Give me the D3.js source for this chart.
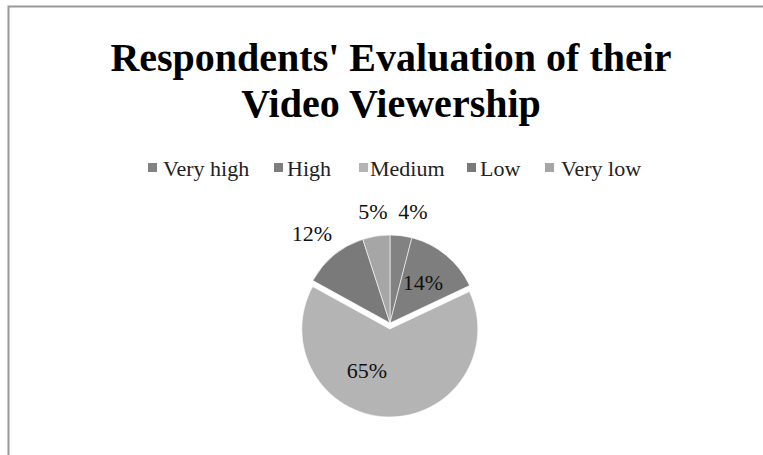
<!DOCTYPE html>
<html><head><meta charset="utf-8">
<script src="https://cdn.jsdelivr.net/npm/d3@7"></script>
<style>html,body{margin:0;padding:0;background:#fff;}svg{display:block;}</style>
</head><body>
<svg id="chart" width="763" height="455"></svg>
<script>
const categories = ["Very high", "High", "Medium", "Low", "Very low"];
const values = [4, 14, 65, 12, 5];
const labels = ["4%", "14%", "65%", "12%", "5%"];
const colors = ["#828282", "#7e7e7e", "#b4b4b4", "#7a7a7a", "#a6a6a6"];
const titleLines = ["Respondents' Evaluation of their", "Video Viewership"];

const svg = d3.select("#chart");
const font = "'Liberation Serif', 'Times New Roman', serif";

svg.append("rect").attr("x", 0).attr("y", 0).attr("width", 763).attr("height", 455).attr("fill", "#fff");
svg.append("rect").attr("x", 8.5).attr("y", 6.5).attr("width", 800).attr("height", 500)
  .attr("fill", "none").attr("stroke", "#9a9a9a").attr("stroke-width", 2);

svg.selectAll("text.title").data(titleLines).enter().append("text")
  .attr("class", "title")
  .attr("x", 391).attr("y", (d, i) => 71 + i * 46)
  .attr("text-anchor", "middle")
  .attr("font-family", font).attr("font-weight", "bold").attr("font-size", 40)
  .attr("fill", "#000").text(d => d);

// legend
const markerX = [148, 274, 359, 467, 545];
const textX = [163, 287, 370, 480, 561];
const lg = svg.append("g");
categories.forEach((c, i) => {
  lg.append("rect").attr("x", markerX[i]).attr("y", 163).attr("width", 9).attr("height", 9).attr("fill", colors[i]);
  lg.append("text").attr("x", textX[i]).attr("y", 176)
    .attr("font-family", font).attr("font-size", 22).attr("fill", "#222").text(c);
});

// pie
const cx = 390, cy = 323, r = 88;
const pie = d3.pie().sort(null).value(d => d)(values);
const arc = d3.arc().innerRadius(0).outerRadius(r);
const g = svg.append("g").attr("transform", `translate(${cx},${cy})`);
const explode = [0, 0, 6, 0, 0];
g.selectAll("path").data(pie).enter().append("path")
  .attr("transform", (d, i) => {
    const a = (d.startAngle + d.endAngle) / 2;
    return `translate(${Math.sin(a) * explode[i]},${-Math.cos(a) * explode[i]})`;
  })
  .attr("d", arc).attr("fill", (d, i) => colors[i])
  .attr("stroke", "#fff").attr("stroke-width", 0.6);

// labels
const labelPos = [
  [413, 219], [423, 290], [367, 378], [312, 241], [373, 219]
];
svg.selectAll("text.lbl").data(pie).enter().append("text")
  .attr("class", "lbl")
  .attr("x", (d, i) => labelPos[i][0]).attr("y", (d, i) => labelPos[i][1])
  .attr("text-anchor", "middle")
  .attr("font-family", font).attr("font-size", 22).attr("fill", "#111")
  .text((d, i) => labels[i]);
</script>
</body></html>
